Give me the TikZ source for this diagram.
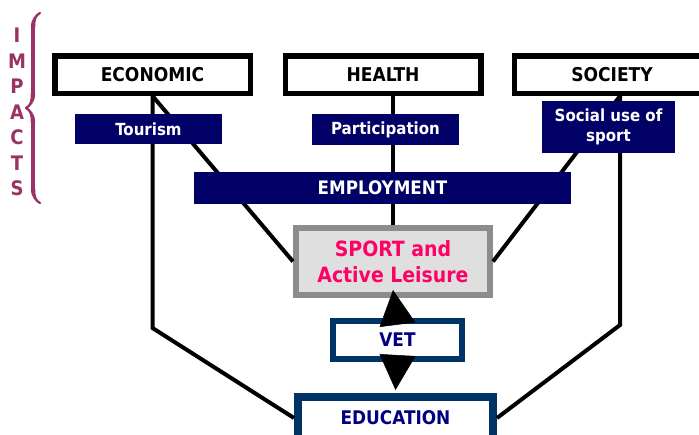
\documentclass[tikz,border=0pt]{standalone}
\usepackage{fontspec}
\setmainfont{DejaVu Sans Condensed}
\usetikzlibrary{arrows.meta}
\usetikzlibrary{decorations.pathreplacing,calligraphy}
\definecolor{tagblue}{RGB}{0,0,102}
\definecolor{frameblue}{RGB}{0,51,102}
\definecolor{textblue}{RGB}{0,0,128}
\definecolor{impactred}{RGB}{153,51,102}
\definecolor{sportpink}{RGB}{255,0,102}
\tikzset{
	topnode/.style={rectangle, draw=black, fill=white, line width=5.5pt, inner sep=0pt, minimum width=195.5pt, minimum height=37.5pt, font=\fontsize{19}{22}\selectfont\bfseries},
	tagnode/.style={rectangle, fill=tagblue, text=white, inner sep=0pt, align=center, font=\fontsize{16.7}{20}\selectfont\bfseries},
	bluenode/.style={rectangle, draw=frameblue, fill=white, text=textblue, inner sep=0pt, font=\fontsize{18.8}{22}\selectfont\bfseries}
}
\tikzset{
	link/.style={line width=4pt},
	bigarrow/.style={-{Triangle[length=35pt, width=36pt]}, line width=0.5pt},
	letter/.style={text=impactred, font=\fontsize{20}{22}\selectfont\bfseries}
}

\begin{document}
\begin{tikzpicture}[x=1pt, y=-1pt]
		\useasboundingbox (0,0) rectangle (699,434);
		
		\node[topnode] at (152.5,74.5) (econ)    {ECONOMIC};
		\node[topnode] at (383,74.5) (health)    {HEALTH};
		\node[topnode] at (612,74.5) (soc)       {SOCIETY};
		
		\node[rectangle, draw=gray!90, fill=gray!25, line width=6pt, inner sep=0pt, minimum width=194pt, minimum height=67pt, align=center, text=sportpink, font=\fontsize{21}{26}\selectfont\bfseries] at (393,261.5) (sport) {SPORT and\\Active Leisure};
		\node[bluenode, line width=6pt, minimum width=129pt, minimum height=38pt] at (397.5,340) (vet) {VET};
		\node[bluenode, line width=8pt, minimum width=195pt, minimum height=42pt] at (395.5,418) (edu) {EDUCATION};
		
		\coordinate (sb) at ([xshift=8pt]soc.south);
		
		\draw[link] (econ.south) -- (econ.south |- 0,328) -- (edu.west); 
		\draw[link] (econ.south) -- (sport.west); 
		\draw[link] (sport.north) -- (sport.north |- health.south); 
		\draw[link] (sb) -- (sport.east); 
		\draw[link] (sb) -- (sb |- 0,325) -- (edu.east); 
		
		\node[tagnode, minimum width=147pt, minimum height=30pt] at (148.5,129) (tour) {Tourism};
		\node[tagnode, minimum width=147pt, minimum height=31pt] at (385.5,129.5) (part) {Participation};
		\node[tagnode, minimum width=133pt, minimum height=52pt] at (608.5,127) (social) {Social use of\\sport};
		\node[tagnode, minimum width=377pt, minimum height=32pt, font=\fontsize{18.6}{22}\selectfont\bfseries] at (382.5,188) (emp) {EMPLOYMENT};
		
		\draw[bigarrow] ([yshift=15pt]vet.center) -- ([yshift=8pt]sport.south);
		\draw[bigarrow] ([yshift=-15pt]vet.center) -- ([yshift=3pt]edu.north);
		
		% side label
		\foreach \ch [count=\i] in {I,M,P,A,C,T,S}
			\node[letter] at (17,10+25.5*\i) (imp\i) {\ch};
		\coordinate (bb) at (40,203);
		\coordinate (bt) at (40,13);
		\draw[decorate, decoration={calligraphic brace, amplitude=14pt}, line width=4.5pt, pen colour={impactred}] (bb) -- (bt);
		
	\end{tikzpicture}
\end{document}
